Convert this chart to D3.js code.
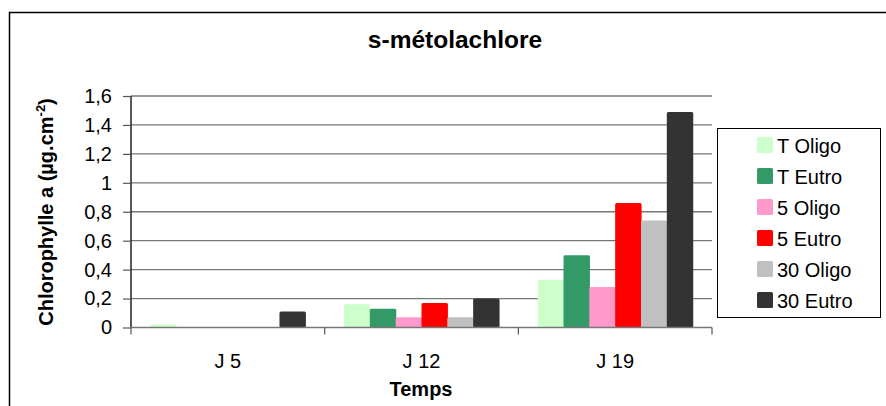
<!DOCTYPE html>
<html>
<head>
<meta charset="utf-8">
<script src="https://cdn.jsdelivr.net/npm/d3@7/dist/d3.min.js"></script>
<style>
  html, body { margin: 0; padding: 0; background: #fff; }
  svg { display: block; font-family: "Liberation Sans", Arial, sans-serif; }
</style>
</head>
<body>
<svg id="chart" width="886" height="406"></svg>
<script>
// Chlorophyll a per sampling day and treatment
const days = ["J 5", "J 12", "J 19"];
const series = ["T Oligo", "T Eutro", "5 Oligo", "5 Eutro", "30 Oligo", "30 Eutro"];
const colors = ["#CCFFCC", "#339966", "#FF99CC", "#FF0000", "#C0C0C0", "#333333"];
const tOligo  = [0.02, 0.16, 0.33];
const tEutro  = [0.00, 0.13, 0.50];
const oligo5  = [0.00, 0.07, 0.28];
const eutro5  = [0.00, 0.17, 0.86];
const oligo30 = [0.00, 0.07, 0.74];
const eutro30 = [0.11, 0.20, 1.49];
const yTicks = [0, 0.2, 0.4, 0.6, 0.8, 1, 1.2, 1.4, 1.6];

const values = [tOligo, tEutro, oligo5, eutro5, oligo30, eutro30];
const rows = [];
days.forEach((d, i) => series.forEach((s, j) => rows.push({ day: d, series: s, value: values[j][i], color: colors[j] })));

const FONT = "Liberation Sans, Arial, sans-serif";
const svg = d3.select("#chart");
const plot = { left: 131, right: 712, top: 96, bottom: 327.5 };

// chart frame
svg.append("path")
  .attr("d", `M9.5,410 V12.5 H890`)
  .attr("fill", "none").attr("stroke", "#000").attr("stroke-width", 1.5);

const x = d3.scaleBand().domain(days).range([plot.left, plot.right]).paddingInner(0).paddingOuter(0);
const gapRatio = 1.5 / 7.5; // Excel gap width 150%
const xs = d3.scaleBand().domain(series)
  .range([x.bandwidth() * gapRatio / 2, x.bandwidth() * (1 - gapRatio / 2)]).padding(0);
const y = d3.scaleLinear().domain([0, 1.6]).range([plot.bottom, plot.top]);

// gridlines
svg.append("g").selectAll("line").data(yTicks.slice(1)).join("line")
  .attr("x1", plot.left).attr("x2", plot.right)
  .attr("y1", d => y(d)).attr("y2", d => y(d))
  .attr("stroke", "#777").attr("stroke-width", 1.3);

// bars
svg.append("g").selectAll("rect").data(rows).join("rect")
  .attr("x", d => x(d.day) + xs(d.series))
  .attr("width", xs.bandwidth() + 0.6)
  .attr("y", d => y(d.value))
  .attr("height", d => y(0) - y(d.value))
  .attr("rx", 1.5)
  .attr("fill", d => d.color);

// y axis
const yAxis = svg.append("g").attr("transform", `translate(${plot.left},0)`)
  .call(d3.axisLeft(y).tickValues(yTicks).tickSize(8).tickPadding(11)
    .tickFormat(d => d3.format("~g")(d).replace(".", ",")));
yAxis.select(".domain").attr("stroke", "#000").attr("stroke-width", 1.3).attr("d", `M-0,${plot.bottom}V${plot.top}`);
yAxis.selectAll(".tick line").attr("stroke", "#555").attr("stroke-width", 1.2);
yAxis.selectAll(".tick text").attr("font-size", 20).attr("fill", "#000").attr("font-family", FONT);

// x axis
const xAxis = svg.append("g").attr("transform", `translate(0,${plot.bottom})`)
  .call(d3.axisBottom(x).tickSize(0).tickPadding(26));
xAxis.select(".domain").attr("stroke", "#777").attr("stroke-width", 1.5).attr("d", `M${plot.left},0H${plot.right}`);
xAxis.selectAll(".tick text").attr("font-size", 20).attr("fill", "#000").attr("font-family", FONT);
// category separators
svg.append("g").selectAll("line").data([...days.map(d => x(d)), plot.right]).join("line")
  .attr("x1", d => d).attr("x2", d => d)
  .attr("y1", plot.bottom).attr("y2", plot.bottom + 7)
  .attr("stroke", "#555").attr("stroke-width", 1.2);

// title
svg.append("text").attr("x", 455).attr("y", 48).attr("text-anchor", "middle")
  .attr("font-size", 24.5).attr("font-weight", "bold").text("s-métolachlore");

// axis titles
svg.append("text").attr("x", 421).attr("y", 396).attr("text-anchor", "middle")
  .attr("font-size", 20).attr("font-weight", "bold").text("Temps");

const yt = svg.append("text").attr("transform", `translate(53,212) rotate(-90)`)
  .attr("text-anchor", "middle").attr("font-size", 20).attr("font-weight", "bold");
yt.append("tspan").text("Chlorophylle a (µg.cm");
yt.append("tspan").attr("dy", -8).attr("font-size", 13).text("-2");
yt.append("tspan").attr("dy", 8).text(")");

// legend
const lg = svg.append("g");
lg.append("rect").attr("x", 717.5).attr("y", 128.5).attr("width", 163).attr("height", 189)
  .attr("fill", "#fff").attr("stroke", "#000").attr("stroke-width", 1);
const item = lg.selectAll("g.item").data(series).join("g").attr("class", "item")
  .attr("transform", (d, i) => `translate(757,${145 + i * 31})`);
item.append("rect").attr("x", 0).attr("y", -8).attr("width", 16).attr("height", 16).attr("rx", 1.5)
  .attr("fill", (d, i) => colors[i]);
item.append("text").attr("x", 20).attr("y", 7.5).attr("font-size", 20).text(d => d);
</script>
</body>
</html>
